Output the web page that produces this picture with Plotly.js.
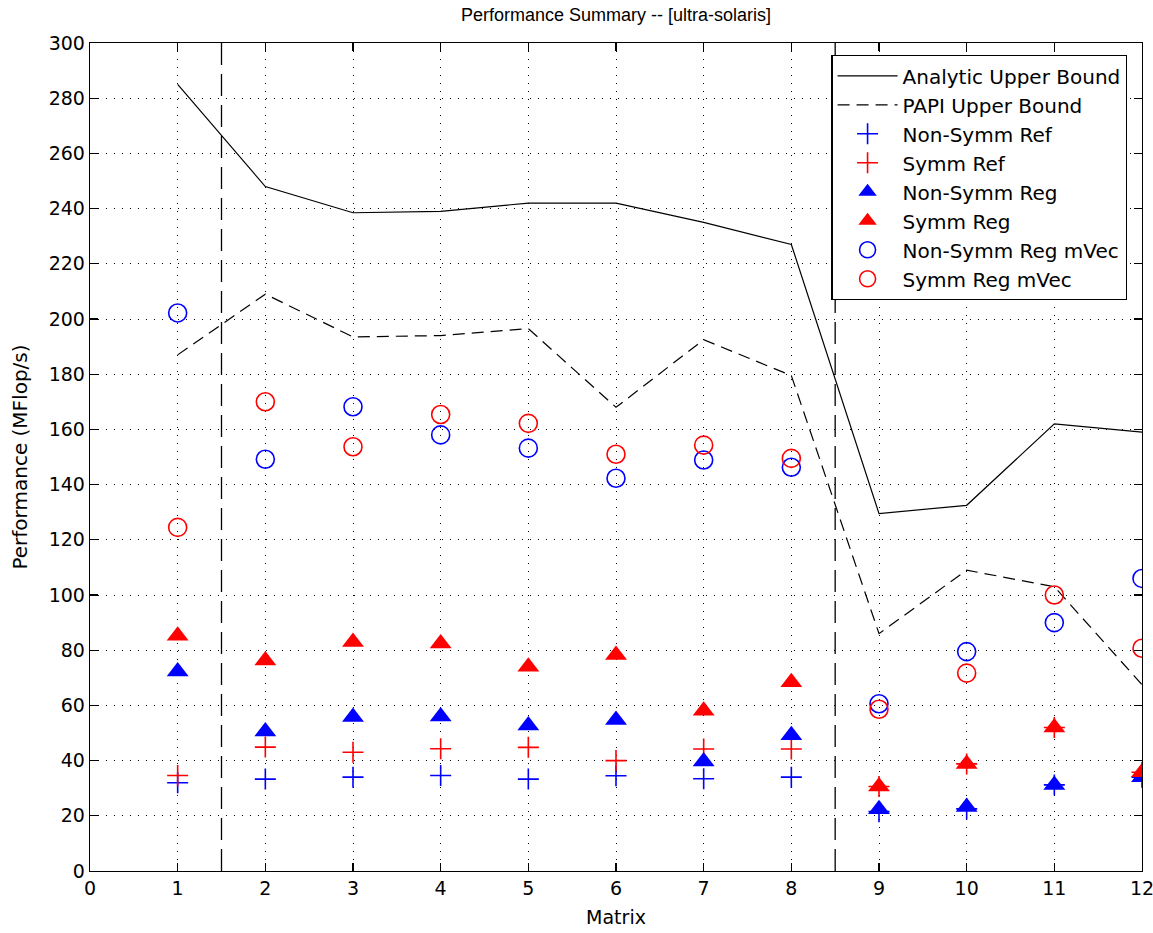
<!DOCTYPE html>
<html>
<head>
<meta charset="utf-8">
<script src="https://cdn.plot.ly/plotly-3.0.1.min.js"></script>
<style>html,body{margin:0;padding:0;background:#fff;}#chart{width:1153px;height:933px;}</style>
</head>
<body>
<div id="chart"></div>
<script>
const matrices = [1, 2, 3, 4, 5, 6, 7, 8, 9, 10, 11, 12];
const analyticUpperBound = [285, 248, 238.5, 239, 242, 242, 235, 227, 129.5, 132.5, 162, 159];
const papiUpperBound = [187, 209, 193.5, 194, 196.5, 168, 192.5, 179.5, 86, 109, 103, 67.5];
const nonSymmRef = [32, 33.3, 34, 34.6, 33.3, 34.5, 33.4, 34, 21.5, 22.5, 31.2, 34];
const symmRef = [34.6, 44.9, 43, 44.3, 44.8, 40, 44.2, 44.2, 30.6, 38.8, 52, 35.8];
const nonSymmReg = [72.3, 50.5, 55.8, 56, 52.7, 54.7, 39.7, 49.2, 22.4, 23.2, 31.2, 34];
const symmReg = [85.2, 76.3, 83, 82.4, 74, 78.3, 58.1, 68.4, 30.6, 38.8, 52, 35.8];
const nonSymmRegMVec = [202.2, 149.2, 168.2, 158, 153.2, 142.3, 148.9, 146.3, 60.6, 79.5, 90, 106];
const symmRegMVec = [124.5, 170, 153.7, 165.4, 162.2, 151, 154.3, 149.5, 58.6, 71.7, 100, 80.7];
const dividerX = [1.5, 8.5];
const yRange = [0, 300];
const xTicks = [0, 1, 2, 3, 4, 5, 6, 7, 8, 9, 10, 11, 12];
const yTicks = [0, 20, 40, 60, 80, 100, 120, 140, 160, 180, 200, 220, 240, 260, 280, 300];

const BLUE = '#0000ff', RED = '#ff0000';
const traces = [];
dividerX.forEach(function (dx) {
  traces.push({x: [dx, dx], y: yRange, mode: 'lines', showlegend: false, hoverinfo: 'skip',
    line: {color: '#000', width: 1.3, dash: '22px,9px'}});
});
traces.push({name: 'Analytic Upper Bound', x: matrices, y: analyticUpperBound, mode: 'lines',
  line: {color: '#000', width: 1.2}});
traces.push({name: 'PAPI Upper Bound', x: matrices, y: papiUpperBound, mode: 'lines',
  line: {color: '#000', width: 1.2, dash: '12px,7px'}});
const mk = function (name, y, sym, color, size) {
  const open = sym.indexOf('open') >= 0;
  return {name: name, x: matrices, y: y, mode: 'markers',
    marker: {symbol: sym, size: size, color: color, line: {color: color, width: open ? 1.6 : 0}}};
};
traces.push(mk('Non-Symm Ref', nonSymmRef, 'cross-thin-open', BLUE, 15));
traces.push(mk('Symm Ref', symmRef, 'cross-thin-open', RED, 15));
traces.push(mk('Non-Symm Reg', nonSymmReg, 'triangle-up', BLUE, 19));
traces.push(mk('Symm Reg', symmReg, 'triangle-up', RED, 19));
traces.push(mk('Non-Symm Reg mVec', nonSymmRegMVec, 'circle-open', BLUE, 18));
traces.push(mk('Symm Reg mVec', symmRegMVec, 'circle-open', RED, 18));

const axisCommon = {
  showline: true, linecolor: '#000', linewidth: 1.3, mirror: 'ticks',
  ticks: 'inside', ticklen: 8, tickcolor: '#000', tickwidth: 1.3,
  showgrid: true, gridcolor: '#000', gridwidth: 1, griddash: '1px,7px',
  zeroline: false, ticklabeloverflow: 'allow',
  tickfont: {family: 'DejaVu Sans', size: 19, color: '#000'}
};
const layout = {
  width: 1153, height: 933,
  paper_bgcolor: '#fff', plot_bgcolor: '#fff',
  margin: {l: 90, r: 11, t: 43, b: 62, autoexpand: false},
  title: {text: 'Performance Summary -- [ultra-solaris]', font: {family: 'Liberation Sans', size: 18, color: '#000'},
    x: 0.5, xref: 'paper', y: 0.984, yref: 'container', yanchor: 'middle'},
  xaxis: Object.assign({}, axisCommon, {range: [0, 12], tickvals: xTicks, ticktext: xTicks.map(String),
    title: {text: 'Matrix', font: {family: 'DejaVu Sans', size: 19, color: '#000'}, standoff: 12}}),
  yaxis: Object.assign({}, axisCommon, {range: yRange, tickvals: yTicks, ticktext: yTicks.map(String),
    title: {text: 'Performance (MFlop/s)', font: {family: 'DejaVu Sans', size: 20, color: '#000'}, standoff: 15}}),
  legend: {x: 0.986, xanchor: 'right', y: 0.9855, yanchor: 'top', bgcolor: '#fff', bordercolor: '#000', borderwidth: 1.3,
    font: {family: 'DejaVu Sans', size: 20, color: '#000'}, tracegroupgap: 0, itemwidth: 60},
  showlegend: true
};
Plotly.newPlot('chart', traces, layout, {staticPlot: true, displayModeBar: false});
</script>
</body>
</html>
